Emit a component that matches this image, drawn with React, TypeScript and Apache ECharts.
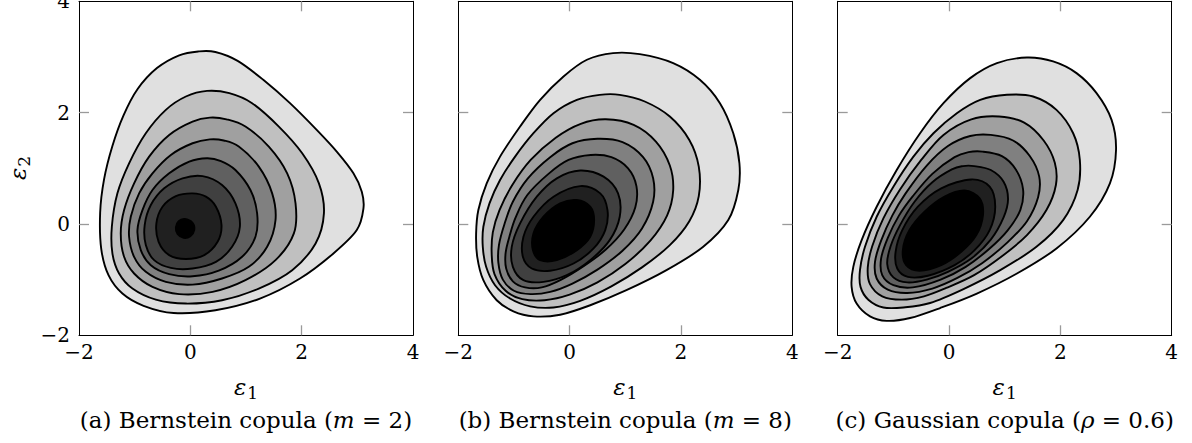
import React, { useEffect, useRef } from 'react';
import * as echarts from 'echarts';

// Fill shade of each contour band, from the outermost level to the innermost
const FILLS = ['#e0e0e0', '#c0c0c0', '#a0a0a0', '#808080', '#606060', '#404040', '#202020', '#000000'];

const X_TICKS = [-2, 0, 2, 4];
const Y_TICKS = [-2, 0, 2, 4];

// (a) Bernstein copula (m = 2): contour outlines, outer to inner, [eps1, eps2]
const A1 = [[0.15,3.10],[-0.20,3.03],[-0.60,2.80],[-0.95,2.42],[-1.20,1.95],[-1.40,1.40],[-1.55,0.80],[-1.62,0.20],[-1.60,-0.45],[-1.47,-0.92],[-1.22,-1.25],[-0.84,-1.47],[-0.30,-1.60],[0.45,-1.55],[1.25,-1.34],[1.97,-0.98],[2.57,-0.53],[2.99,-0.11],[3.11,0.28],[3.08,0.58],[2.93,0.91],[2.63,1.30],[2.27,1.69],[1.79,2.17],[1.31,2.59],[0.85,2.93],[0.45,3.09]];
const A2 = [[0.30,2.39],[-0.08,2.29],[-0.44,2.05],[-0.80,1.63],[-1.10,1.09],[-1.31,0.55],[-1.41,-0.05],[-1.40,-0.53],[-1.28,-0.89],[-1.04,-1.16],[-0.62,-1.36],[-0.08,-1.43],[0.57,-1.37],[1.23,-1.16],[1.83,-0.83],[2.25,-0.35],[2.40,0.19],[2.31,0.73],[2.01,1.27],[1.59,1.75],[1.11,2.17],[0.70,2.35]];
const A3 = [[0.35,1.91],[0.04,1.84],[-0.38,1.60],[-0.74,1.21],[-1.01,0.73],[-1.19,0.25],[-1.25,-0.17],[-1.19,-0.59],[-1.01,-0.89],[-0.68,-1.13],[-0.20,-1.26],[0.40,-1.22],[0.99,-1.01],[1.53,-0.65],[1.86,-0.17],[1.89,0.37],[1.74,0.91],[1.41,1.39],[0.99,1.75],[0.65,1.88]];
const A4 = [[0.35,1.52],[0.04,1.45],[-0.35,1.24],[-0.68,0.91],[-0.92,0.55],[-1.07,0.13],[-1.10,-0.23],[-1.01,-0.59],[-0.80,-0.86],[-0.44,-1.04],[0.04,-1.09],[0.57,-0.98],[1.05,-0.77],[1.38,-0.41],[1.53,0.07],[1.47,0.55],[1.23,1.03],[0.87,1.39],[0.60,1.50]];
const A5 = [[0.30,1.18],[-0.02,1.12],[-0.38,0.91],[-0.68,0.61],[-0.86,0.25],[-0.95,-0.11],[-0.89,-0.47],[-0.71,-0.74],[-0.38,-0.90],[0.04,-0.94],[0.51,-0.84],[0.93,-0.59],[1.17,-0.23],[1.20,0.19],[1.08,0.61],[0.81,0.97],[0.55,1.13]];
const A6 = [[0.22,0.86],[-0.14,0.82],[-0.47,0.64],[-0.71,0.34],[-0.82,-0.02],[-0.80,-0.38],[-0.65,-0.65],[-0.35,-0.79],[0.04,-0.80],[0.46,-0.68],[0.75,-0.41],[0.89,-0.05],[0.81,0.37],[0.57,0.70]];
const A7 = [[0.04,0.55],[-0.26,0.50],[-0.50,0.31],[-0.61,0.01],[-0.57,-0.32],[-0.38,-0.56],[-0.08,-0.63],[0.25,-0.56],[0.49,-0.32],[0.56,-0.02],[0.46,0.31],[0.28,0.49]];
const A8 = [[-0.10,0.09],[-0.21,0.05],[-0.26,-0.06],[-0.23,-0.18],[-0.12,-0.25],[0.00,-0.22],[0.07,-0.11],[0.04,0.02]];

// (b) Bernstein copula (m = 8)
const B1 = [[0.78,3.07],[0.31,2.95],[-0.11,2.65],[-0.53,2.23],[-0.89,1.75],[-1.25,1.21],[-1.49,0.73],[-1.64,0.25],[-1.68,-0.17],[-1.66,-0.59],[-1.55,-1.01],[-1.31,-1.37],[-1.01,-1.57],[-0.65,-1.66],[-0.17,-1.63],[0.37,-1.46],[1.02,-1.19],[1.74,-0.83],[2.40,-0.41],[2.85,0.07],[3.03,0.61],[3.05,1.09],[2.94,1.63],[2.70,2.17],[2.34,2.59],[1.86,2.89],[1.26,3.05]];
const B2 = [[0.54,2.32],[0.13,2.23],[-0.29,1.99],[-0.65,1.63],[-0.98,1.21],[-1.25,0.79],[-1.44,0.37],[-1.55,-0.05],[-1.56,-0.41],[-1.50,-0.77],[-1.34,-1.10],[-1.07,-1.34],[-0.71,-1.48],[-0.29,-1.50],[0.19,-1.38],[0.75,-1.12],[1.30,-0.78],[1.80,-0.38],[2.15,0.05],[2.32,0.50],[2.32,1.03],[2.15,1.51],[1.80,1.93],[1.35,2.20],[0.90,2.32]];
const B3 = [[0.65,1.88],[0.20,1.80],[-0.25,1.55],[-0.70,1.15],[-1.03,0.70],[-1.26,0.25],[-1.38,-0.15],[-1.40,-0.55],[-1.35,-0.90],[-1.15,-1.20],[-0.85,-1.35],[-0.45,-1.37],[0.00,-1.27],[0.50,-1.05],[1.00,-0.72],[1.45,-0.30],[1.75,0.15],[1.86,0.60],[1.80,1.05],[1.55,1.48],[1.15,1.78]];
const B4 = [[0.50,1.53],[0.05,1.45],[-0.35,1.20],[-0.75,0.82],[-1.02,0.40],[-1.17,0.00],[-1.27,-0.38],[-1.28,-0.70],[-1.20,-1.00],[-1.00,-1.20],[-0.70,-1.26],[-0.35,-1.22],[0.05,-1.07],[0.50,-0.82],[0.95,-0.48],[1.30,-0.08],[1.50,0.40],[1.50,0.82],[1.32,1.20],[0.95,1.47]];
const B5 = [[0.38,1.24],[-0.02,1.15],[-0.38,0.90],[-0.76,0.52],[-0.97,0.12],[-1.08,-0.22],[-1.15,-0.52],[-1.14,-0.80],[-1.02,-1.03],[-0.80,-1.14],[-0.50,-1.14],[-0.15,-1.00],[0.25,-0.76],[0.65,-0.46],[0.98,-0.10],[1.18,0.30],[1.20,0.68],[1.05,1.00],[0.75,1.20]];
const B6 = [[0.19,0.96],[0.61,0.85],[0.87,0.55],[0.90,0.13],[0.72,-0.29],[0.37,-0.65],[-0.05,-0.92],[-0.47,-1.04],[-0.83,-1.01],[-1.02,-0.77],[-1.04,-0.41],[-0.89,0.01],[-0.59,0.49],[-0.23,0.82]];
const B7 = [[0.19,0.68],[0.55,0.55],[0.68,0.25],[0.64,-0.11],[0.43,-0.44],[0.07,-0.71],[-0.35,-0.84],[-0.68,-0.80],[-0.84,-0.59],[-0.83,-0.23],[-0.65,0.13],[-0.29,0.49]];
const B8 = [[0.13,0.43],[0.37,0.31],[0.44,0.07],[0.37,-0.23],[0.13,-0.47],[-0.23,-0.65],[-0.53,-0.65],[-0.66,-0.47],[-0.65,-0.17],[-0.47,0.13],[-0.17,0.37]];

// (c) Gaussian copula (rho = 0.6)
const C1 = [[1.40,2.99],[0.86,2.89],[0.38,2.62],[-0.10,2.17],[-0.52,1.63],[-0.94,0.97],[-1.30,0.31],[-1.57,-0.29],[-1.72,-0.77],[-1.75,-1.13],[-1.66,-1.43],[-1.42,-1.66],[-1.12,-1.74],[-0.70,-1.69],[-0.16,-1.51],[0.50,-1.25],[1.22,-0.89],[1.93,-0.44],[2.53,0.13],[2.89,0.73],[3.00,1.33],[2.92,1.87],[2.65,2.35],[2.29,2.71],[1.87,2.92]];
const C2 = [[1.04,2.32],[0.56,2.23],[0.14,1.99],[-0.28,1.63],[-0.64,1.21],[-1.00,0.67],[-1.30,0.13],[-1.51,-0.41],[-1.60,-0.83],[-1.59,-1.13],[-1.45,-1.36],[-1.18,-1.50],[-0.82,-1.50],[-0.34,-1.42],[0.26,-1.17],[0.92,-0.83],[1.57,-0.41],[2.05,0.07],[2.31,0.61],[2.35,1.15],[2.23,1.63],[1.93,2.05],[1.51,2.29]];
const C3 = [[0.90,1.93],[0.40,1.88],[-0.10,1.60],[-0.50,1.15],[-0.88,0.62],[-1.18,0.10],[-1.38,-0.40],[-1.46,-0.78],[-1.42,-1.08],[-1.20,-1.30],[-0.85,-1.36],[-0.45,-1.30],[-0.05,-1.15],[0.45,-0.92],[0.95,-0.58],[1.40,-0.20],[1.75,0.25],[1.92,0.70],[1.90,1.10],[1.70,1.50],[1.35,1.82]];
const C4 = [[0.75,1.60],[0.38,1.58],[-0.02,1.40],[-0.40,1.05],[-0.78,0.55],[-1.02,0.15],[-1.22,-0.30],[-1.33,-0.68],[-1.30,-0.98],[-1.10,-1.18],[-0.75,-1.24],[-0.30,-1.16],[0.15,-0.97],[0.60,-0.70],[1.05,-0.33],[1.40,0.05],[1.60,0.48],[1.62,0.85],[1.45,1.22],[1.15,1.50]];
const C5 = [[0.60,1.30],[0.35,1.29],[0.10,1.20],[-0.30,0.90],[-0.65,0.50],[-0.90,0.15],[-1.10,-0.25],[-1.22,-0.62],[-1.20,-0.92],[-1.00,-1.10],[-0.65,-1.14],[-0.15,-1.00],[0.30,-0.77],[0.72,-0.45],[1.05,-0.12],[1.28,0.25],[1.33,0.62],[1.20,0.98],[0.95,1.22]];
const C6 = [[0.45,1.04],[0.25,1.04],[0.05,0.98],[-0.30,0.75],[-0.62,0.40],[-0.88,-0.02],[-1.05,-0.40],[-1.11,-0.72],[-1.00,-0.96],[-0.75,-1.05],[-0.40,-1.00],[-0.02,-0.86],[0.40,-0.62],[0.75,-0.28],[0.98,0.12],[1.06,0.45],[0.98,0.76],[0.75,0.97]];
const C7 = [[0.40,0.80],[0.73,0.67],[0.83,0.31],[0.73,-0.11],[0.46,-0.47],[0.10,-0.74],[-0.38,-0.93],[-0.74,-0.95],[-0.93,-0.80],[-0.96,-0.50],[-0.84,-0.11],[-0.56,0.31],[-0.14,0.64]];
const C8 = [[0.28,0.60],[0.55,0.46],[0.61,0.16],[0.49,-0.20],[0.22,-0.50],[-0.14,-0.74],[-0.53,-0.84],[-0.77,-0.74],[-0.83,-0.47],[-0.71,-0.11],[-0.44,0.22],[-0.08,0.49]];

const PANEL_A = [A1, A2, A3, A4, A5, A6, A7, A8];
const PANEL_B = [B1, B2, B3, B4, B5, B6, B7, B8];
const PANEL_C = [C1, C2, C3, C4, C5, C6, C7, C8];
const PANELS = [PANEL_A, PANEL_B, PANEL_C];

const CAPTION_PREFIX = ['(a) Bernstein copula (', '(b) Bernstein copula (', '(c) Gaussian copula ('];
const CAPTION_SYMBOL = ['m', 'm', 'ρ'];
const CAPTION_SUFFIX = [' = 2)', ' = 8)', ' = 0.6)'];

const GRID_LEFTS = [79, 458.3, 837.7];
const GRID_TOP = 1.3;
const GRID_SIZE = 334;
const FONT = 'DejaVu Serif';

function fmt(v: number): string {
  return v < 0 ? '\u2212' + Math.abs(v) : String(v);
}

// Closed Catmull-Rom curve through the (already projected) pixel points
function closedCurve(pts: number[][]): string {
  const n = pts.length;
  const f = (v: number) => v.toFixed(2);
  let d = 'M' + f(pts[0][0]) + ',' + f(pts[0][1]);
  for (let i = 0; i < n; i++) {
    const p0 = pts[(i - 1 + n) % n];
    const p1 = pts[i];
    const p2 = pts[(i + 1) % n];
    const p3 = pts[(i + 2) % n];
    const c1x = p1[0] + (p2[0] - p0[0]) / 6;
    const c1y = p1[1] + (p2[1] - p0[1]) / 6;
    const c2x = p2[0] - (p3[0] - p1[0]) / 6;
    const c2y = p2[1] - (p3[1] - p1[1]) / 6;
    d += 'C' + f(c1x) + ',' + f(c1y) + ' ' + f(c2x) + ',' + f(c2y) + ' ' + f(p2[0]) + ',' + f(p2[1]);
  }
  return d + 'Z';
}

export default function App() {
  const ref = useRef<HTMLDivElement>(null);
  useEffect(() => {
    document.body.style.margin = '0';
    const chart = echarts.init(ref.current as HTMLDivElement, null, { renderer: 'svg' });

    const grid: any[] = [];
    const xAxis: any[] = [];
    const yAxis: any[] = [];
    const series: any[] = [];
    const graphic: any[] = [];

    const tickStyle = { color: '#9a9a9a', width: 1.3 };
    const lineStyle = { color: '#000', width: 1 };

    PANELS.forEach((contours, i) => {
      grid.push({ left: GRID_LEFTS[i], top: GRID_TOP, width: GRID_SIZE, height: GRID_SIZE, containLabel: false, outerBoundsMode: 'none' });
      const xBase = {
        gridIndex: i, type: 'value', min: -2, max: 4, interval: 2,
        axisLine: { show: true, onZero: false, lineStyle },
        axisTick: { show: true, inside: true, length: 10, customValues: [0, 2], lineStyle: tickStyle },
        splitLine: { show: false },
      };
      xAxis.push({ ...xBase, position: 'bottom',
        axisLabel: { show: true, margin: 7, fontFamily: FONT, fontSize: 20, color: '#000', formatter: fmt, customValues: X_TICKS } });
      xAxis.push({ ...xBase, position: 'top', axisLabel: { show: false } });
      const yBase = {
        gridIndex: i, type: 'value', min: -2, max: 4, interval: 2,
        axisLine: { show: true, onZero: false, lineStyle },
        axisTick: { show: true, inside: true, length: 10, customValues: [0, 2], lineStyle: tickStyle },
        splitLine: { show: false },
      };
      yAxis.push({ ...yBase, position: 'left',
        axisLabel: { show: i === 0, margin: 9, fontFamily: FONT, fontSize: 20, color: '#000', formatter: fmt, customValues: Y_TICKS } });
      yAxis.push({ ...yBase, position: 'right', axisLabel: { show: false } });

      series.push({
        type: 'custom',
        coordinateSystem: 'cartesian2d',
        xAxisIndex: 2 * i,
        yAxisIndex: 2 * i,
        silent: true,
        clip: false,
        data: contours.map((c) => c[0]),
        renderItem: (params: any, api: any) => {
          const pts = contours[params.dataIndex].map((p) => api.coord(p));
          return {
            type: 'path',
            shape: { pathData: closedCurve(pts) },
            style: { fill: FILLS[params.dataIndex], stroke: '#000', lineWidth: 1.9, lineJoin: 'round' },
          };
        },
      });

      const cx = GRID_LEFTS[i] + GRID_SIZE / 2;
      graphic.push({
        type: 'text', x: cx, y: 387, silent: true,
        style: {
          text: '{e|ε}{s|1}', textAlign: 'center', textVerticalAlign: 'middle',
          rich: {
            e: { fontFamily: FONT, fontStyle: 'italic', fontSize: 23, fill: '#000' },
            s: { fontFamily: FONT, fontSize: 17, fill: '#000', padding: [12, 0, 0, 1] },
          },
        },
      });
      graphic.push({
        type: 'text', x: cx, y: 420, silent: true,
        style: {
          text: '{n|' + CAPTION_PREFIX[i] + '}{i|' + CAPTION_SYMBOL[i] + '}{n|' + CAPTION_SUFFIX[i] + '}',
          textAlign: 'center', textVerticalAlign: 'middle',
          rich: {
            n: { fontFamily: FONT, fontSize: 23, fill: '#000' },
            i: { fontFamily: FONT, fontStyle: 'italic', fontSize: 23, fill: '#000' },
          },
        },
      });
    });

    graphic.push({
      type: 'text', x: 18, y: 168, rotation: Math.PI / 2, silent: true,
      style: {
        text: '{e|ε}{s|2}', textAlign: 'center', textVerticalAlign: 'middle',
        rich: {
          e: { fontFamily: FONT, fontStyle: 'italic', fontSize: 23, fill: '#000' },
          s: { fontFamily: FONT, fontSize: 17, fill: '#000', padding: [12, 0, 0, 1] },
        },
      },
    });

    chart.setOption({
      animation: false,
      backgroundColor: '#fff',
      grid, xAxis, yAxis, series, graphic,
    });
    return () => chart.dispose();
  }, []);
  return <div ref={ref} style={{ width: 1192, height: 443 }} />;
}
